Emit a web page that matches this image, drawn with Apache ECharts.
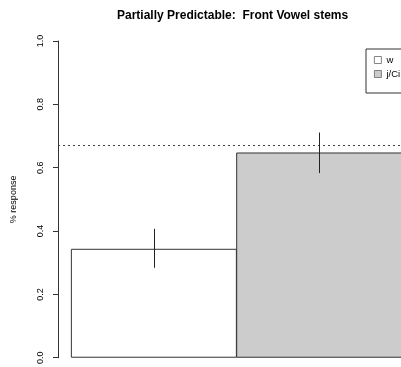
<!DOCTYPE html>
<html><head><meta charset="utf-8">
<script src="https://cdn.jsdelivr.net/npm/echarts@6/dist/echarts.min.js"></script>
<style>html,body{margin:0;padding:0;background:#fff}#c{width:401px;height:367px}</style>
</head><body><div id="c"></div>
<script>
const categories = ["w", "j/Ci"];
const barPositions = [0.5, 1.5];
const values = [0.344, 0.648];
const errLow = [0.284, 0.583];
const errHigh = [0.407, 0.711];
const refLine = 2 / 3;
const yTicks = [0, 0.2, 0.4, 0.6, 0.8, 1.0];
const colors = ["#ffffff", "#cccccc"];

const FONT = "Liberation Sans, Arial, sans-serif";
const chart = echarts.init(document.getElementById('c'), null, {renderer: 'canvas'});

const barSeries = categories.map((name, i) => ({
  name: name,
  type: 'bar',
  barWidth: 166,
  barGap: '-100%',
  data: [[barPositions[i], values[i]]],
  itemStyle: {color: colors[i], borderColor: '#333', borderWidth: 1},
  emphasis: {disabled: true},
  animation: false,
  z: 2
}));

barSeries[0].markLine = {
  silent: true,
  symbol: 'none',
  label: {show: false},
  lineStyle: {type: [2, 3], color: '#444', width: 1},
  data: [{yAxis: refLine}],
  animation: false
};

const errData = barPositions.map((x, i) => [x, errLow[i], errHigh[i]]);

chart.setOption({
  animation: false,
  title: {
    text: 'Partially Predictable:  Front Vowel stems',
    left: 117, top: 10, padding: 0,
    textStyle: {fontFamily: FONT, fontSize: 12, fontWeight: 'bold', color: '#000'}
  },
  legend: {
    orient: 'vertical',
    left: 366, top: 49,
    padding: [6, 50, 14, 8],
    itemWidth: 7, itemHeight: 7, itemGap: 4,
    borderColor: '#333', borderWidth: 1,
    icon: 'rect',
    itemStyle: {borderColor: '#666', borderWidth: 0.8},
    textStyle: {fontFamily: FONT, fontSize: 9.5, color: '#000'},
    data: categories
  },
  grid: {left: 58, right: 0, top: 41, bottom: 9, containLabel: false},
  xAxis: {
    type: 'value', min: -0.08, max: 1.995, show: false
  },
  yAxis: {
    type: 'value', min: 0, max: 1, interval: 0.2,
    name: '% response', nameLocation: 'middle', nameRotate: 90, nameGap: 40,
    nameTextStyle: {fontFamily: FONT, fontSize: 9, color: '#000'},
    axisLine: {show: true, onZero: false, lineStyle: {color: '#333', width: 1}},
    axisTick: {show: true, length: 5, lineStyle: {color: '#333'}},
    axisLabel: {
      rotate: 90, margin: 13, fontFamily: FONT, fontSize: 9, color: '#000',
      formatter: v => v.toFixed(1)
    },
    splitLine: {show: false}
  },
  series: barSeries.concat([{
    type: 'custom',
    silent: true,
    z: 5,
    data: errData,
    renderItem: function (params, api) {
      const p1 = api.coord([api.value(0), api.value(1)]);
      const p2 = api.coord([api.value(0), api.value(2)]);
      return {
        type: 'line',
        shape: {x1: Math.round(p1[0]) + 0.5, y1: p1[1], x2: Math.round(p2[0]) + 0.5, y2: p2[1]},
        style: {stroke: '#222', lineWidth: 1}
      };
    }
  }])
});
</script>
</body></html>
